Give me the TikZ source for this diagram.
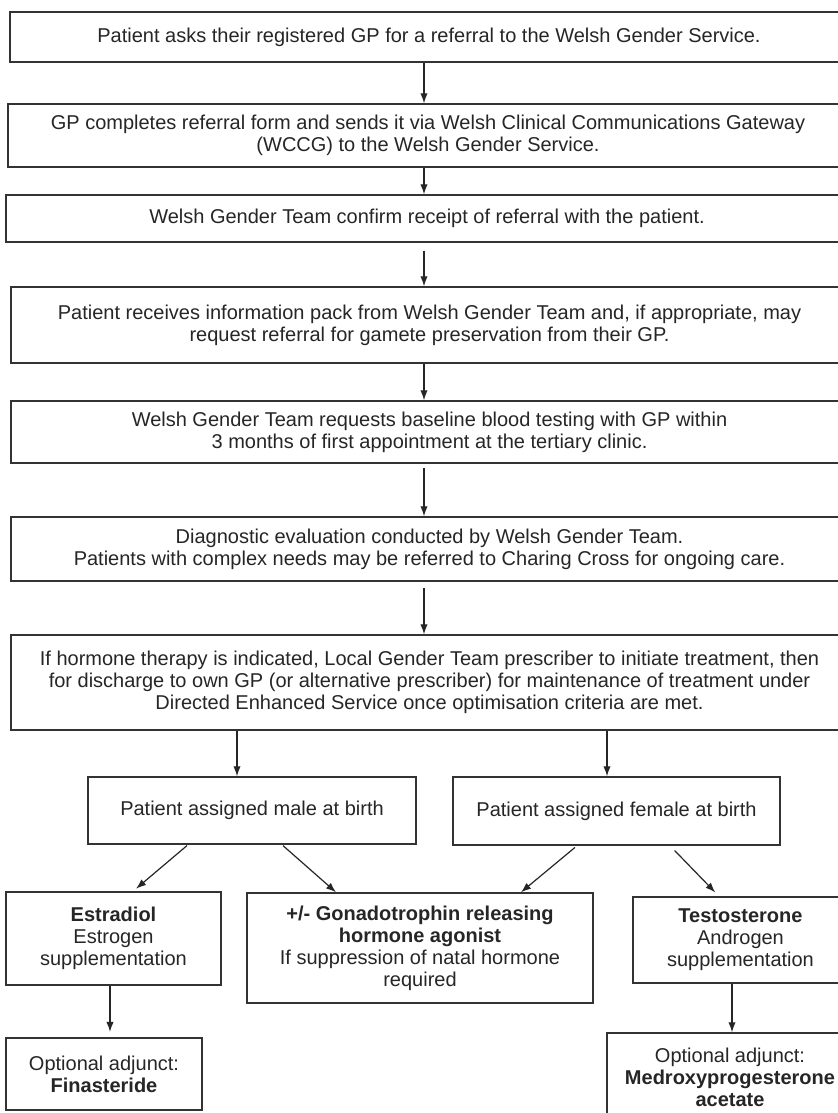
\documentclass[tikz,border=0pt]{standalone}
\usepackage{fontspec}
\setmainfont{Liberation Sans}
\usetikzlibrary{arrows.meta,calc}
\begin{document}
\begin{tikzpicture}[x=0.75pt,y=-0.75pt,
  box/.style={draw=black!80, line width=1.1pt, fill=white, inner sep=0pt, align=center,
    font=\fontsize{15}{16.5}\selectfont, text=black!85},
  arr/.style={-{Latex[length=7.5pt,width=5.5pt]}, line width=0.9pt, draw=black!85}]
\useasboundingbox (0,0) rectangle (838,1113);
\clip (0,0) rectangle (838,1113);
\fill[white] (0,0) rectangle (838,1113);

\node[box, minimum width=628.5pt, minimum height=37.5pt] (b1) at (429,37)
  {Patient asks their registered GP for a referral to the Welsh Gender Service.};
\node[box, minimum width=630pt, minimum height=47.25pt] (b2) at (428,135.5)
  {GP completes referral form and sends it via Welsh Clinical Communications Gateway\\(WCCG) to the Welsh Gender Service.};
\node[box, minimum width=631.5pt, minimum height=35.25pt] (b3) at (427,218.5)
  {Welsh Gender Team confirm receipt of referral with the patient.};
\node[box, minimum width=627.75pt, minimum height=57pt] (b4) at (429.5,325)
  {Patient receives information pack from Welsh Gender Team and, if appropriate, may\\request referral for gamete preservation from their GP.};
\node[box, minimum width=627.75pt, minimum height=46.5pt] (b5) at (429.5,432)
  {Welsh Gender Team requests baseline blood testing with GP within\\3 months of first appointment at the tertiary clinic.};
\node[box, minimum width=627.75pt, minimum height=48pt] (b6) at (429.5,549)
  {Diagnostic evaluation conducted by Welsh Gender Team.\\Patients with complex needs may be referred to Charing Cross for ongoing care.};
\node[box, minimum width=627.75pt, minimum height=71.25pt] (b7) at (429.5,682.5)
  {If hormone therapy is indicated, Local Gender Team prescriber to initiate treatment, then\\for discharge to own GP (or alternative prescriber) for maintenance of treatment under\\Directed Enhanced Service once optimisation criteria are met.};
\node[box, minimum width=246pt, minimum height=50.25pt] (male) at (252,810.5)
  {Patient assigned male at birth};
\node[box, minimum width=245.25pt, minimum height=51pt] (female) at (616.5,811)
  {Patient assigned female at birth};
\node[box, minimum width=161.25pt, minimum height=69.75pt] (estr) at (113.5,938.5)
  {\textbf{Estradiol}\\Estrogen\\supplementation};
\node[box, minimum width=259.5pt, minimum height=82.5pt] (gnrh) at (420,948)
  {\textbf{+/- Gonadotrophin releasing}\\\textbf{hormone agonist}\\If suppression of natal hormone\\required};
\node[box, minimum width=161.25pt, minimum height=64.5pt] (testo) at (740.5,940)
  {\textbf{Testosterone}\\Androgen\\supplementation};
\node[box, minimum width=147pt, minimum height=54pt] (fin) at (104,1074)
  {Optional adjunct:\\\textbf{Finasteride}};
\node[box, minimum width=184.5pt, minimum height=66pt] (medr) at (730,1077)
  {Optional adjunct:\\\textbf{Medroxyprogesterone}\\\textbf{acetate}};

\coordinate (ax) at (424,0);
\coordinate (xm) at (237,0);
\coordinate (xf) at (607,0);
\coordinate (xe) at (110,0);
\coordinate (xt) at (732,0);
\coordinate (d1s) at (188,0);
\coordinate (d1e) at (133,0);
\coordinate (d2s) at (282,0);
\coordinate (d2e) at (336,0);
\coordinate (d3s) at (577,0);
\coordinate (d3e) at (521,0);
\coordinate (d4s) at (670,0);
\coordinate (d4e) at (719,0);

\draw[arr] (b1.south -| ax) -- (b2.north -| ax);
\draw[arr] (b2.south -| ax) -- (b3.north -| ax);
\draw[arr, shorten <=6pt] (b3.south -| ax) -- (b4.north -| ax);
\draw[arr] (b4.south -| ax) -- (b5.north -| ax);
\draw[arr, shorten <=3pt] (b5.south -| ax) -- (b6.north -| ax);
\draw[arr, shorten <=4.5pt] (b6.south -| ax) -- (b7.north -| ax);
\draw[arr] (b7.south -| xm) -- (male.north -| xm);
\draw[arr] (b7.south -| xf) -- (female.north -| xf);
\draw[arr, shorten <=1pt, shorten >=3pt] (male.south -| d1s) -- (estr.north -| d1e);
\draw[arr, shorten <=1pt] (male.south -| d2s) -- (gnrh.north -| d2e);
\draw[arr, shorten <=2pt] (female.south -| d3s) -- (gnrh.north -| d3e);
\draw[arr, shorten <=5pt, shorten >=4pt] (female.south -| d4s) -- (testo.north -| d4e);
\draw[arr, shorten >=4pt] (estr.south -| xe) -- (fin.north -| xe);
\draw[arr] (testo.south -| xt) -- (medr.north -| xt);
\end{tikzpicture}
\end{document}
